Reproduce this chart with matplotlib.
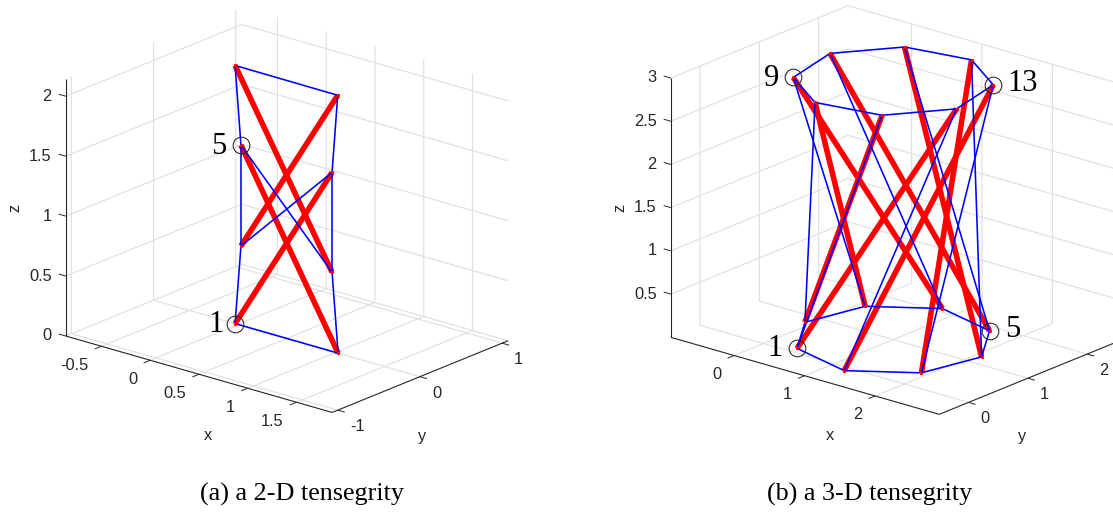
#!/usr/bin/env python3
import matplotlib
matplotlib.use("Agg")
import matplotlib.pyplot as plt
from mpl_toolkits.mplot3d import proj3d

W = 1113
H = 512

# left panel, the 2-D tensegrity (all nodes in the plane y=0)
left_x = [-0.03, 1.026, -0.03, 1.022, 0.03, 0.964, 0.03, 0.964]
left_y = [0, 0, 0, 0, 0, 0, 0, 0]
left_z = [0.0, 0.0, 2.153, 2.15, 1.503, 1.493, 0.661, 0.66]
left_bars = [(0, 5), (1, 4), (2, 7), (3, 6)]
left_strings = [(0, 1), (2, 3), (0, 6), (6, 4), (4, 2), (1, 7), (7, 5), (5, 3), (4, 7), (6, 5)]
left_marked = [0, 4]
left_marked_names = ["1", "5"]
left_xticks = [-0.5, 0, 0.5, 1, 1.5]
left_xticklabels = ["-0.5", "0", "0.5", "1", "1.5"]
left_yticks = [-1, 0, 1]
left_yticklabels = ["-1", "0", "1"]
left_zticks = [0, 0.5, 1, 1.5, 2]
left_zticklabels = ["0", "0.5", "1", "1.5", "2"]
left_lims = [(-0.866, 1.865), (-1.069, 1.073), (0, 2.146)]

# right panel, the 3-D tensegrity (bottom ring 1-8, top ring 9-16)
right_x = [0.378, 1.225, 1.914, 2.089, 1.622, 0.775, 0.086, -0.089,
           0.092, -0.093, 0.396, 1.216, 1.908, 2.093, 1.604, 0.784]
right_y = [0.116, -0.095, 0.389, 1.195, 1.884, 2.095, 1.611, 0.805,
           0.393, 1.232, 1.907, 2.062, 1.607, 0.768, 0.093, -0.062]
right_z = [0, 0, 0, 0, 0, 0, 0, 0,
           2.99, 2.99, 2.99, 2.99, 2.99, 2.99, 2.99, 2.99]
right_bars = [(8, 5), (9, 4), (10, 3), (11, 2), (12, 1), (13, 0), (14, 7), (15, 6)]
right_strings = [(0, 1), (1, 2), (2, 3), (3, 4), (4, 5), (5, 6), (6, 7), (7, 0),
                 (8, 9), (9, 10), (10, 11), (11, 12), (12, 13), (13, 14), (14, 15), (15, 8),
                 (8, 6), (9, 5), (10, 4), (11, 3), (12, 2), (13, 1), (14, 0), (15, 7)]
right_marked = [0, 4, 8, 12]
right_marked_names = ["1", "5", "9", "13"]
right_xticks = [0, 1, 2]
right_xticklabels = ["0", "1", "2"]
right_yticks = [0, 1, 2]
right_yticklabels = ["0", "1", "2"]
right_zticks = [0.5, 1, 1.5, 2, 2.5, 3]
right_zticklabels = ["0.5", "1", "1.5", "2", "2.5", "3"]
right_lims = [(-0.9, 2.91), (-0.495, 2.495), (0, 3.0)]

GRID = "#e0e0e0"
AXC = "#262626"
SANS = "Liberation Sans"
SERIF = "Liberation Serif"
TICK_SIZE = 11.8


def screen(ax, x, y, z):
    xs, ys, _ = proj3d.proj_transform(x, y, z, ax.get_proj())
    return ax.transData.transform((xs, ys))


def put_text(x, y, s, **kw):
    # x, y in pixels from the top left corner
    return fig.text(x / W, 1 - y / H, s, **kw)


def panel(lims, corner, zaxis_px, nx, ny, nz, bars, strings, marked, names, name_pos,
          xticks, xlabels, yticks, ylabels, zticks, zlabels, label_pos):
    ax = fig.add_axes([0.1, 0.1, 500 / W, 500 / H], projection="3d", proj_type="ortho",
                      computed_zorder=False)
    ax.view_init(elev=20, azim=-50, roll=0)
    ax.set_xlim(*lims[0])
    ax.set_ylim(*lims[1])
    ax.set_zlim(*lims[2])
    ax.set_axis_off()
    ax.patch.set_visible(False)
    (x0, x1), (y0, y1), (z0, z1) = lims

    # fit zoom and position so the z axis lands where it is in the picture
    zoom = 1.0
    for i in range(2):
        ax.set_box_aspect((349.3, 275, 275), zoom=zoom)
        fig.canvas.draw()
        low = screen(ax, x0, y0, z0)
        high = screen(ax, x0, y0, z1)
        zoom = zoom * zaxis_px / (high[1] - low[1])
    ax.set_box_aspect((349.3, 275, 275), zoom=zoom)
    fig.canvas.draw()
    low = screen(ax, x0, y0, z0)
    pos = ax.get_position()
    ax.set_position([pos.x0 + (corner[0] - low[0]) / W, pos.y0 + ((H - corner[1]) - low[1]) / H,
                     pos.width, pos.height])
    fig.canvas.draw()

    line = dict(clip_on=False, solid_capstyle="butt")

    # grid on the floor and the two back walls
    for t in xticks:
        ax.plot([t, t, t], [y0, y1, y1], [z0, z0, z1], color=GRID, lw=0.85, zorder=1, **line)
    for t in yticks:
        ax.plot([x1, x0, x0], [t, t, t], [z0, z0, z1], color=GRID, lw=0.85, zorder=1, **line)
    for t in zticks:
        ax.plot([x0, x0, x1], [y0, y1, y1], [t, t, t], color=GRID, lw=0.85, zorder=1, **line)

    # the three axis lines
    ax.plot([x0, x1], [y0, y0], [z0, z0], color=AXC, lw=0.8, zorder=2, **line)
    ax.plot([x1, x1], [y0, y1], [z0, z0], color=AXC, lw=0.8, zorder=2, **line)
    ax.plot([x0, x0], [y0, y0], [z0, z1], color=AXC, lw=0.8, zorder=2, **line)

    xtick = 0.026 * (x1 - x0)
    ytick = 0.037 * (y1 - y0)
    for t, s in zip(xticks, xlabels):
        ax.plot([t, t], [y0, y0 - ytick], [z0, z0], color=AXC, lw=0.7, zorder=2, **line)
        p = screen(ax, t, y0, z0)
        put_text(p[0] - 13, H - p[1] + 19, s, ha="right", va="center",
                 family=SANS, fontsize=TICK_SIZE, color=AXC)
    for t, s in zip(yticks, ylabels):
        ax.plot([x1, x1 + xtick], [t, t], [z0, z0], color=AXC, lw=0.7, zorder=2, **line)
        p = screen(ax, x1, t, z0)
        put_text(p[0] + 12, H - p[1] + 16.5, s, ha="left", va="center",
                 family=SANS, fontsize=TICK_SIZE, color=AXC)
    for t, s in zip(zticks, zlabels):
        ax.plot([x0, x0 - xtick], [y0, y0], [t, t], color=AXC, lw=0.7, zorder=2, **line)
        p = screen(ax, x0, y0, t)
        put_text(p[0] - 14, H - p[1], s, ha="right", va="center",
                 family=SANS, fontsize=TICK_SIZE, color=AXC)

    put_text(*label_pos[0], "x", ha="center", va="center", family=SANS, fontsize=TICK_SIZE, color=AXC)
    put_text(*label_pos[1], "y", ha="center", va="center", family=SANS, fontsize=TICK_SIZE, color=AXC)
    put_text(*label_pos[2], "z", ha="center", va="center", rotation=90, family=SANS,
             fontsize=TICK_SIZE, color=AXC)

    # bars, strings, node dots, marked nodes
    for a, b in bars:
        ax.plot([nx[a], nx[b]], [ny[a], ny[b]], [nz[a], nz[b]], color="#ff0000", lw=4.0, zorder=3, **line)
    for a, b in strings:
        ax.plot([nx[a], nx[b]], [ny[a], ny[b]], [nz[a], nz[b]], color="#0000ff", lw=1.15, zorder=4, **line)
    ax.plot(nx, ny, nz, ls="none", marker="o", ms=2.4, mfc="#ff0000", mec="none", zorder=5, clip_on=False)
    for m, s, q in zip(marked, names, name_pos):
        ax.plot([nx[m]], [ny[m]], [nz[m]], ls="none", marker="o", ms=12, mfc="none", mec="#222222",
                mew=0.75, zorder=6, clip_on=False)
        put_text(q[0], q[1] + 1.5, s, ha="center", va="center", family=SERIF, fontsize=22, color="black")


fig = plt.figure(figsize=(W / 100, H / 100), dpi=100, facecolor="white")

panel(left_lims, (65.7, 336), 257.3, left_x, left_y, left_z, left_bars, left_strings,
      left_marked, left_marked_names, [(216, 322.7), (219, 145)],
      left_xticks, left_xticklabels, left_yticks, left_yticklabels, left_zticks, left_zticklabels,
      [(207.7, 435), (421.7, 436.7), (15, 208.3)])
panel(right_lims, (670.7, 337.3), 259.3, right_x, right_y, right_z, right_bars, right_strings,
      right_marked, right_marked_names, [(775, 346.7), (1012.7, 327.7), (772, 76.7), (1023, 81.7)],
      right_xticks, right_xticklabels, right_yticks, right_yticklabels, right_zticks, right_zticklabels,
      [(830, 435), (1021.7, 436.7), (620, 208)])

put_text(302, 494, "(a) a 2-D tensegrity", ha="center", va="center", family=SERIF, fontsize=18.85, color="black")
put_text(869.5, 494, "(b) a 3-D tensegrity", ha="center", va="center", family=SERIF, fontsize=18.85, color="black")

fig.savefig("out.png", dpi=100)
